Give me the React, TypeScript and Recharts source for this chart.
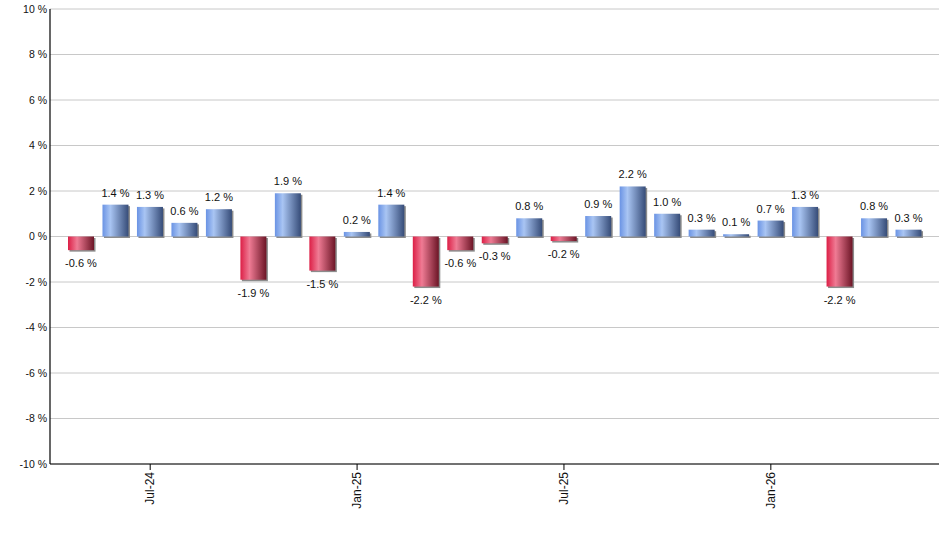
import React from 'react';
import { BarChart, Bar, XAxis, YAxis, CartesianGrid, Cell, LabelList } from 'recharts';

const months = [
  'May-24', 'Jun-24', 'Jul-24', 'Aug-24', 'Sep-24', 'Oct-24', 'Nov-24', 'Dec-24',
  'Jan-25', 'Feb-25', 'Mar-25', 'Apr-25', 'May-25', 'Jun-25', 'Jul-25', 'Aug-25',
  'Sep-25', 'Oct-25', 'Nov-25', 'Dec-25', 'Jan-26', 'Feb-26', 'Mar-26', 'Apr-26', 'May-26',
];
const returns = [
  -0.6, 1.4, 1.3, 0.6, 1.2, -1.9, 1.9, -1.5, 0.2, 1.4, -2.2, -0.6, -0.3, 0.8, -0.2, 0.9,
  2.2, 1.0, 0.3, 0.1, 0.7, 1.3, -2.2, 0.8, 0.3,
];
const yTicks = [-10, -8, -6, -4, -2, 0, 2, 4, 6, 8, 10];
const labeledMonths = ['Jul-24', 'Jan-25', 'Jul-25', 'Jan-26'];

const data = months.map((m, i) => ({ month: m, value: returns[i] }));

const FONT = '"Liberation Sans", Arial, sans-serif';

const BarShape = (props: any) => {
  const { x, y, width, height, value } = props;
  const top = Math.min(y, y + height);
  const h = Math.abs(height);
  const fill = value >= 0 ? 'url(#gradBlue)' : 'url(#gradRed)';
  return (
    <g>
      <rect x={x + 1.5} y={top + 1.5} width={width} height={h} fill="#8c8c8c" />
      <rect x={x} y={top} width={width} height={h} fill={fill} />
    </g>
  );
};

const ValueLabel = (props: any) => {
  const { x, y, width, height, value } = props;
  const top = Math.min(y, y + height);
  const bottom = Math.max(y, y + height);
  const cx = x + width / 2;
  const ty = value >= 0 ? top - 12 : bottom + 13;
  return (
    <text x={cx} y={ty} textAnchor="middle" dominantBaseline="central" fontSize={11} fontFamily={FONT} fill="#111">
      {`${value.toFixed(1)} %`}
    </text>
  );
};

const XTick = (props: any) => {
  const { x, y, payload } = props;
  if (!labeledMonths.includes(payload.value)) return null;
  return (
    <g>
      <line x1={x} x2={x} y1={y - 8} y2={y - 2} stroke="#000" strokeWidth={1} />
      <text
        transform={`translate(${x + 4},${y}) rotate(-90)`}
        textAnchor="end"
        fontSize={12}
        fontFamily={FONT}
        fill="#111"
      >
        {payload.value}
      </text>
    </g>
  );
};

export default function App() {
  return (
    <div style={{ position: 'absolute', left: 0, top: 0, background: '#fff' }}>
      <BarChart
        width={940}
        height={550}
        data={data}
        margin={{ top: 9, right: 1, bottom: 26, left: 0 }}
      >
        <defs>
          <linearGradient id="gradBlue" x1="0" y1="0" x2="1" y2="0">
            <stop offset="0%" stopColor="#6a93e4" />
            <stop offset="30%" stopColor="#a9c5f3" />
            <stop offset="100%" stopColor="#364c78" />
          </linearGradient>
          <linearGradient id="gradRed" x1="0" y1="0" x2="1" y2="0">
            <stop offset="0%" stopColor="#dc1f46" />
            <stop offset="35%" stopColor="#ef7b94" />
            <stop offset="100%" stopColor="#6c1526" />
          </linearGradient>
        </defs>
        <CartesianGrid vertical={false} stroke="#c8c8c8" strokeWidth={1} />
        <XAxis
          dataKey="month"
          interval={0}
          height={60}
          tickLine={false}
          tick={<XTick />}
          tickSize={0}
          tickMargin={8}
          axisLine={{ stroke: '#000', strokeWidth: 1.2 }}
          padding={{ left: 14, right: 13 }}
        />
        <YAxis
          width={50}
          domain={[-10, 10]}
          ticks={yTicks}
          interval={0}
          tickFormatter={(v: number) => `${v} %`}
          tickLine={false}
          tickSize={3}
          tickMargin={0}
          axisLine={{ stroke: '#000', strokeWidth: 1.2 }}
          tick={{ fontSize: 10.5, fontFamily: FONT, fill: '#111' }}
        />
        <Bar dataKey="value" barSize={26} shape={<BarShape />} isAnimationActive={false}>
          {data.map((d, i) => (
            <Cell key={i} fill={d.value >= 0 ? 'url(#gradBlue)' : 'url(#gradRed)'} />
          ))}
          <LabelList dataKey="value" content={<ValueLabel />} />
        </Bar>
      </BarChart>
    </div>
  );
}
